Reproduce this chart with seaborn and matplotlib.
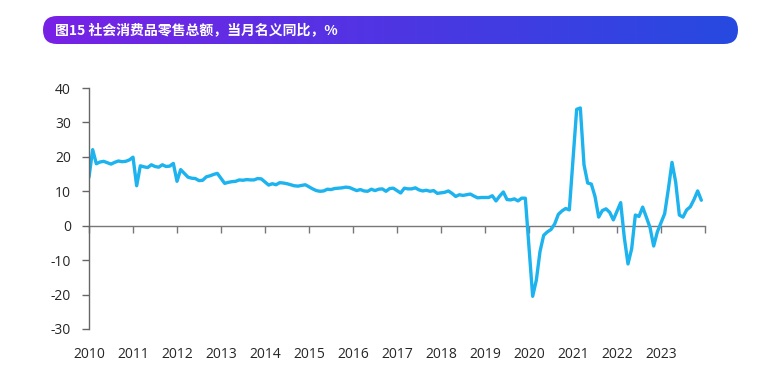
import numpy as np
import pandas as pd
import matplotlib
matplotlib.use("Agg")
import matplotlib.pyplot as plt
from matplotlib.patches import FancyBboxPatch
import seaborn as sns

# ---- data (monthly YoY %, None = month not reported separately) ----
years = list(range(2010, 2024))
v2010 = [14.1, 22.1, 18.0, 18.5, 18.7, 18.3, 17.9, 18.4, 18.8, 18.6, 18.7, 19.1]
v2011 = [19.9, 11.6, 17.4, 17.1, 16.9, 17.7, 17.2, 17.0, 17.7, 17.2, 17.3, 18.1]
v2012 = [12.9, 16.3, 15.2, 14.1, 13.8, 13.7, 13.1, 13.2, 14.2, 14.5, 14.9, 15.2]
v2013 = [None, 12.3, 12.6, 12.8, 12.9, 13.3, 13.2, 13.4, 13.3, 13.3, 13.7, 13.6]
v2014 = [None, 11.8, 12.2, 11.9, 12.5, 12.4, 12.2, 11.9, 11.6, 11.5, 11.7, 11.9]
v2015 = [None, 10.7, 10.2, 10.0, 10.1, 10.6, 10.5, 10.8, 10.9, 11.0, 11.2, 11.1]
v2016 = [None, 10.2, 10.5, 10.1, 10.0, 10.6, 10.2, 10.6, 10.7, 10.0, 10.8, 10.9]
v2017 = [None, 9.5, 10.9, 10.7, 10.7, 11.0, 10.4, 10.1, 10.3, 10.0, 10.2, 9.4]
v2018 = [None, 9.7, 10.1, 9.4, 8.5, 9.0, 8.8, 9.0, 9.2, 8.6, 8.1, 8.2]
v2019 = [None, 8.2, 8.7, 7.2, 8.6, 9.8, 7.6, 7.5, 7.8, 7.2, 8.0, 8.0]
v2020 = [None, -20.5, -15.8, -7.5, -2.8, -1.8, -1.1, 0.5, 3.3, 4.3, 5.0, 4.6]
v2021 = [None, 33.8, 34.2, 17.7, 12.4, 12.1, 8.5, 2.5, 4.4, 4.9, 3.9, 1.7]
v2022 = [None, 6.7, -3.5, -11.1, -6.7, 3.1, 2.7, 5.4, 2.5, -0.5, -5.9, -1.8]
v2023 = [None, 3.5, 10.6, 18.4, 12.7, 3.1, 2.5, 4.6, 5.5, 7.6, 10.1, 7.4]
yticks = [-30, -20, -10, 0, 10, 20, 30, 40]
xlabels = [str(y) for y in years]
title = "图15 社会消费品零售总额，当月名义同比，%"

series = [v2010, v2011, v2012, v2013, v2014, v2015, v2016, v2017,
          v2018, v2019, v2020, v2021, v2022, v2023]
rows = []
for yr, vals in zip(years, series):
    for m, v in enumerate(vals):
        if v is not None:
            rows.append({"t": yr + m / 12.0, "v": v})
df = pd.DataFrame(rows)

# ---- figure ----
sns.set_theme(style="white")
plt.rcParams['font.family'] = ['Open Sans', 'Noto Sans CJK SC', 'DejaVu Sans']

W, H = 783, 378
fig = plt.figure(figsize=(W / 100, H / 100), dpi=100)
fig.patch.set_facecolor("white")

ax = fig.add_axes([89 / W, 1 - 329 / H, (705 - 89) / W, (329 - 88) / H])
sns.lineplot(data=df, x="t", y="v", ax=ax, color="#1CB3EE", linewidth=2.4,
             sort=False)
ax.set_xlim(2010, 2024)
ax.set_ylim(-30, 40)
ax.set_xlabel("")
ax.set_ylabel("")
ax.set_yticks(yticks)
ax.set_yticklabels([str(t) for t in yticks])
ax.tick_params(axis="y", direction="out", length=5, width=1, color="#666666",
               pad=8, labelsize=10, labelcolor="#262626", left=True)
ax.set_xticks(years)
ax.set_xticklabels(xlabels)
ax.tick_params(axis="x", length=0, pad=13, labelsize=10, labelcolor="#262626")
for s in ["top", "right", "bottom"]:
    ax.spines[s].set_visible(False)
ax.spines["left"].set_color("#666666")
ax.spines["left"].set_linewidth(1)

# zero axis with downward ticks
sec = ax.secondary_xaxis(3 / 7)
sec.set_xticks(list(years) + [2024])
sec.set_xticklabels([])
sec.tick_params(axis="x", direction="out", length=5, width=1, color="#777777")
sec.spines["bottom"].set_color("#777777")
sec.spines["bottom"].set_linewidth(1)

# ---- title banner ----
bx0, by0, bx1, by1 = 43, 16, 738, 44
bw, bh = bx1 - bx0, by1 - by0
axb = fig.add_axes([bx0 / W, 1 - by1 / H, bw / W, bh / H])
axb.set_xlim(0, bw)
axb.set_ylim(0, bh)
axb.axis("off")
c0 = np.array([0.47, 0.13, 0.90])
c1 = np.array([0.15, 0.29, 0.88])
g = np.linspace(0, 1, 256)
grad = (c0[None, :] * (1 - g[:, None]) + c1[None, :] * g[:, None])[None, :, :]
im = axb.imshow(grad, extent=[0, bw, 0, bh], aspect="auto", origin="lower")
patch = FancyBboxPatch((0, 0), bw, bh, boxstyle="round,pad=0,rounding_size=14",
                       facecolor="none", edgecolor="none")
axb.add_patch(patch)
im.set_clip_path(patch)
axb.text(12, bh / 2, title, color="white", fontsize=10, fontweight="bold",
         va="center", ha="left", family=['Noto Sans CJK SC', 'DejaVu Sans'])

fig.savefig("out.png", dpi=100, facecolor="white")
